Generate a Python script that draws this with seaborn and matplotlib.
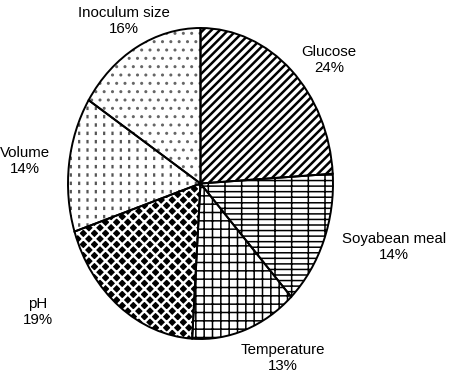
import matplotlib
matplotlib.use("Agg")
import matplotlib.pyplot as plt
import seaborn as sns
import numpy as np

sns.set_theme(style="white")
plt.rcParams['font.family'] = ['Liberation Sans', 'DejaVu Sans']

categories = ["Glucose", "Soyabean meal", "Temperature", "pH", "Volume", "Inoculum size"]
values = [24, 14, 13, 19, 14, 16]
pct_labels = ["24%", "14%", "13%", "19%", "14%", "16%"]

hatches = ["////", "---|", "++", "xxx", "||", ".."]
face = ["white", "white", "white", "black", "white", "white"]
hcol = ["black", "black", "black", "white", "#555555", "#666666"]
hlw = [1.8, 1.1, 1.1, 1.7, 1.6, 1.0]

# label centres in pixels (from top-left)
label_px = [(329, 60), (394, 247), (283, 358), (38, 312), (25, 161), (124, 21)]

W, H = 449, 380
fig = plt.figure(figsize=(W / 100, H / 100), dpi=100)
ax = fig.add_axes([0, 0, 1, 1])
RX, RY = 132.5, 155.5
cx, cy = 200.5, 183.5

wedges, _ = ax.pie(values, startangle=90, counterclock=False, radius=1.0,
                   wedgeprops=dict(linewidth=0))
for w, h, f, hc, lw in zip(wedges, hatches, face, hcol, hlw):
    w.set_facecolor(f)
    w.set_edgecolor(hc)
    w.set_hatch(h)
    if hasattr(w, "set_hatch_linewidth"):
        w.set_hatch_linewidth(lw)
    w.set_linewidth(0)

# white horizontal breaks to turn the Volume lines into short dashes
over, _ = ax.pie(values, startangle=90, counterclock=False, radius=1.0,
                 wedgeprops=dict(fill=False, linewidth=0))
for i, w in enumerate(over):
    if categories[i] == "Volume":
        w.set_edgecolor("white")
        w.set_hatch("--")
        if hasattr(w, "set_hatch_linewidth"):
            w.set_hatch_linewidth(3.5)
    else:
        w.set_visible(False)

ax.pie(values, startangle=90, counterclock=False, radius=1.0,
       wedgeprops=dict(fill=False, edgecolor="black", linewidth=1.4))
ax.set_aspect('auto')
ax.set_xlim(-cx / RX, (W - cx) / RX)
ax.set_ylim(-(H - cy) / RY, cy / RY)
ax.axis('off')

for cat, pct, (px, py) in zip(categories, pct_labels, label_px):
    x = (px - cx) / RX
    y = (cy - py) / RY
    ax.text(x, y, f"{cat}\n{pct}", ha="center", va="center", fontsize=10.8,
            color="black", linespacing=1.2)

fig.savefig("out.png", dpi=100)
